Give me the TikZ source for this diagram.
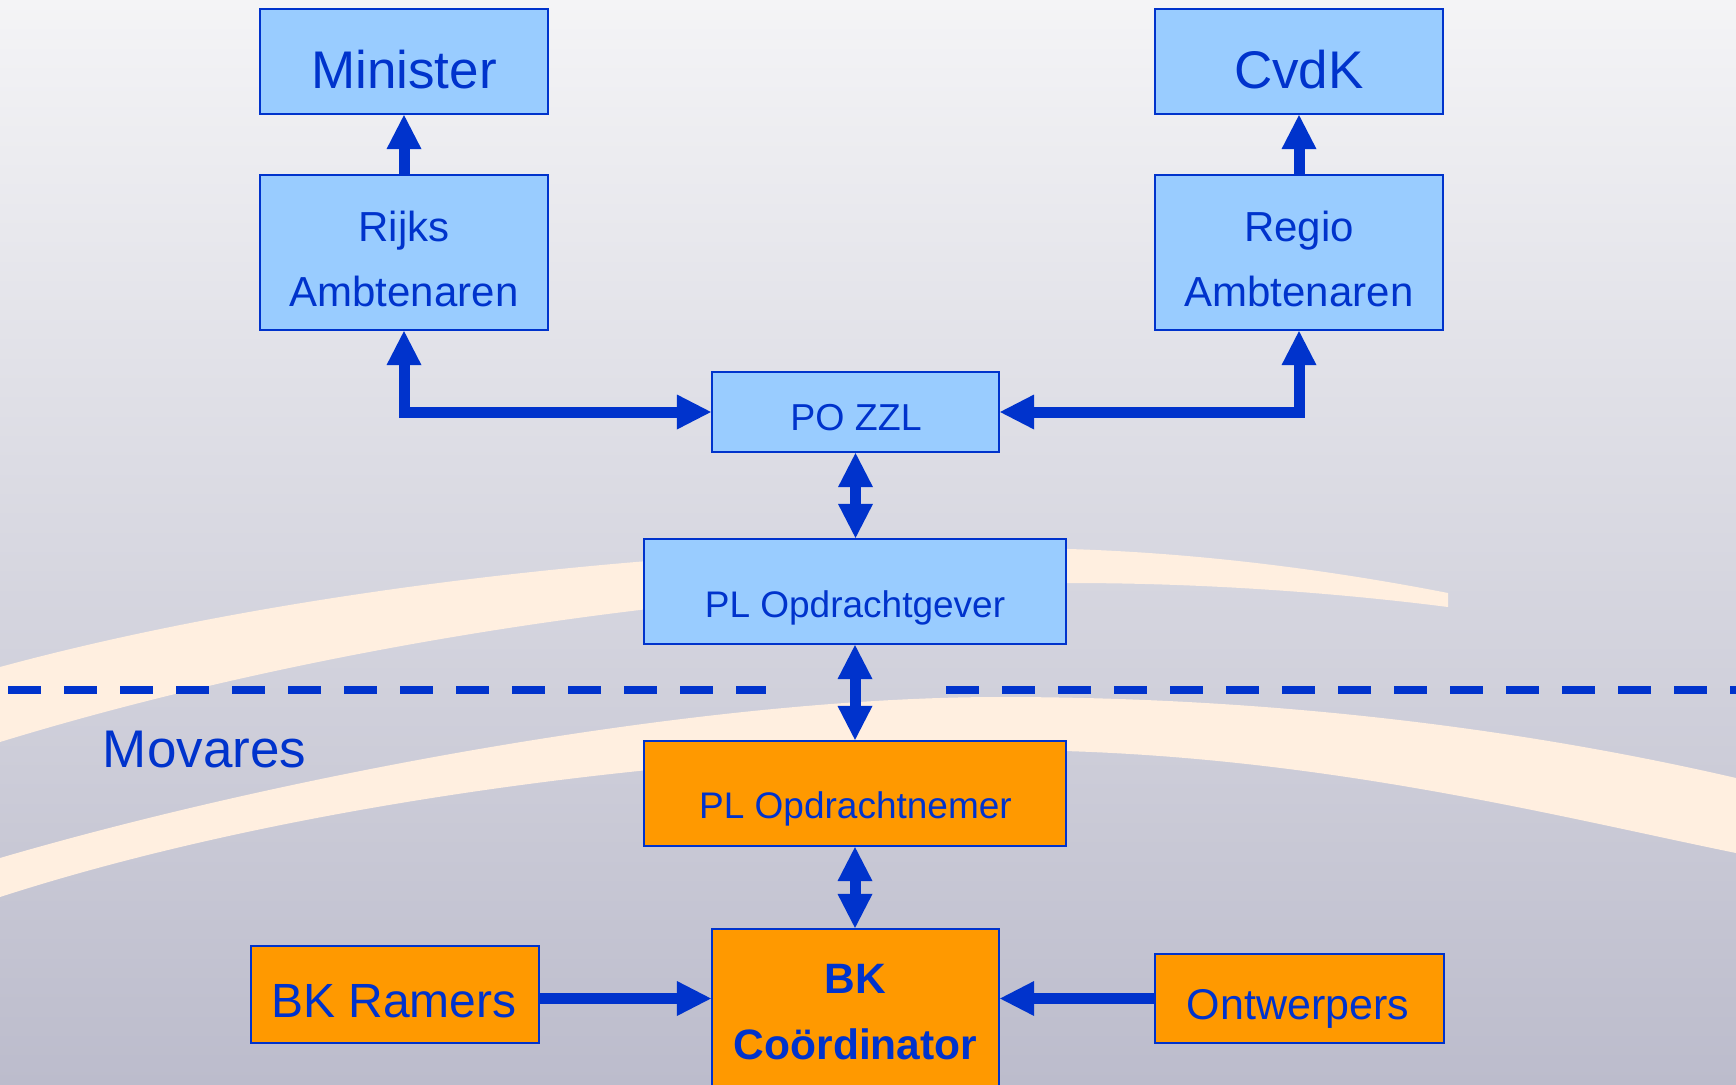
\documentclass[tikz,border=0pt]{standalone}
\usepackage{fontspec}
\setmainfont{Liberation Sans}
\usetikzlibrary{arrows.meta}
\definecolor{bgtop}{HTML}{F4F4F6}
\definecolor{bgbot}{HTML}{BCBCCC}
\definecolor{cream}{HTML}{FFEFE0}
\definecolor{lblue}{HTML}{99CCFF}
\definecolor{dblue}{HTML}{0033CC}
\definecolor{orng}{HTML}{FF9900}
\tikzset{
  box/.style={draw=dblue, line width=2.2pt, rectangle, inner sep=0pt, minimum width=288pt},
  bluebox/.style={box, fill=lblue},
  orangebox/.style={box, fill=orng},
  lbl/.style={text=dblue, inner sep=0pt, anchor=base},
  conn/.style={draw=dblue, line width=11pt},
  sepline/.style={draw=dblue, line width=8pt, dash pattern=on 33pt off 23pt},
}
\newcommand{\fs}[1]{\fontsize{#1}{#1}\selectfont}
\begin{document}
\begin{tikzpicture}[x=1pt,y=-1pt,>={Triangle[width=35pt,length=34pt,line width=0pt]}]
\useasboundingbox (0,0) rectangle (1736,1084);
\shade[top color=bgtop,bottom color=bgbot] (0,0) rectangle (1736,1084);
% background bands
\fill[cream] (0,667) .. controls (320,580) and (760,538) .. (1069,549)
  .. controls (1200,553) and (1330,570) .. (1448,593) -- (1448,607)
  .. controls (1330,592) and (1200,583) .. (1069,583)
  .. controls (700,583) and (300,650) .. (0,742) -- cycle;
\fill[cream] (0,858) .. controls (280,776) and (700,697) .. (1000,697)
  .. controls (1300,697) and (1550,735) .. (1736,778) -- (1736,853)
  .. controls (1550,815) and (1300,750) .. (1000,750)
  .. controls (700,752) and (300,800) .. (0,897) -- cycle;
% separator
\coordinate (dl1) at (8,690);
\coordinate (dl2) at (766,690);
\coordinate (dr1) at (946,690);
\coordinate (dr2) at (1736,690);
\draw[sepline] (dl1) -- (dl2);
\draw[sepline] (dr1) -- (dr2);
% boxes
\node[bluebox, minimum height=105pt] (min) at (404,61.5) {};
\node[bluebox, minimum height=155pt] (rijks) at (404,252.5) {};
\node[bluebox, minimum height=105pt] (cvdk) at (1299,61.5) {};
\node[bluebox, minimum height=155pt] (regio) at (1299,252.5) {};
\node[bluebox, minimum width=287pt, minimum height=80pt] (po) at (855.5,412) {};
\node[bluebox, minimum width=422pt, minimum height=105pt] (plg) at (855,591.5) {};
\node[orangebox, minimum width=422pt, minimum height=105pt] (pln) at (855,793.5) {};
\node[orangebox, minimum width=287pt, minimum height=158pt] (bkc) at (855.5,1008) {};
\node[orangebox, minimum height=97pt] (bkr) at (395,994.5) {};
\node[orangebox, minimum width=289pt, minimum height=89pt] (ontw) at (1299.5,998.5) {};
% connectors
\draw[conn,->] (rijks.north) -- (min.south);
\draw[conn,->] (regio.north) -- (cvdk.south);
\draw[conn,<->] (rijks.south) |- (po.west);
\draw[conn,<->] (regio.south) |- (po.east);
\draw[conn,<->] (po.south) -- (po.south |- plg.north);
\draw[conn,<->] (plg.south) -- (pln.north);
\draw[conn,<->] (pln.south) -- (pln.south |- bkc.north);
\draw[conn,->] (bkr.east |- ontw.west) -- (bkc.west |- ontw.west);
\draw[conn,->] (ontw.west) -- (bkc.east |- ontw.west);
% labels
\node[lbl, font=\fs{53}] (tmin) at (404,88) {Minister};
\node[lbl, font=\fs{42}] (trijks1) at (404,241) {Rijks};
\node[lbl, font=\fs{42}] (trijks2) at (404,306) {Ambtenaren};
\node[lbl, font=\fs{53}] (tcvdk) at (1299,88) {CvdK};
\node[lbl, font=\fs{42}] (tregio1) at (1299,241) {Regio};
\node[lbl, font=\fs{42}] (tregio2) at (1299,306) {Ambtenaren};
\node[lbl, font=\fs{37.5}] (tpo) at (856,430) {PO ZZL};
\node[lbl, font=\fs{37}] (tplg) at (855,617) {PL Opdrachtgever};
\node[lbl, font=\fs{37}] (tpln) at (855.5,818) {PL Opdrachtnemer};
\node[lbl, font=\fs{53}] (tmov) at (204.5,767) {Movares};
\node[lbl, font=\fs{48}] (tbkr) at (394,1017) {BK Ramers};
\node[lbl, font=\fs{43}] (tontw) at (1298,1019) {Ontwerpers};
\node[lbl, font=\fs{42.5}\bfseries] (tbk1) at (855.5,993) {BK};
\node[lbl, font=\fs{42.5}\bfseries] (tbk2) at (855.5,1059) {Coördinator};
\end{tikzpicture}
\end{document}
